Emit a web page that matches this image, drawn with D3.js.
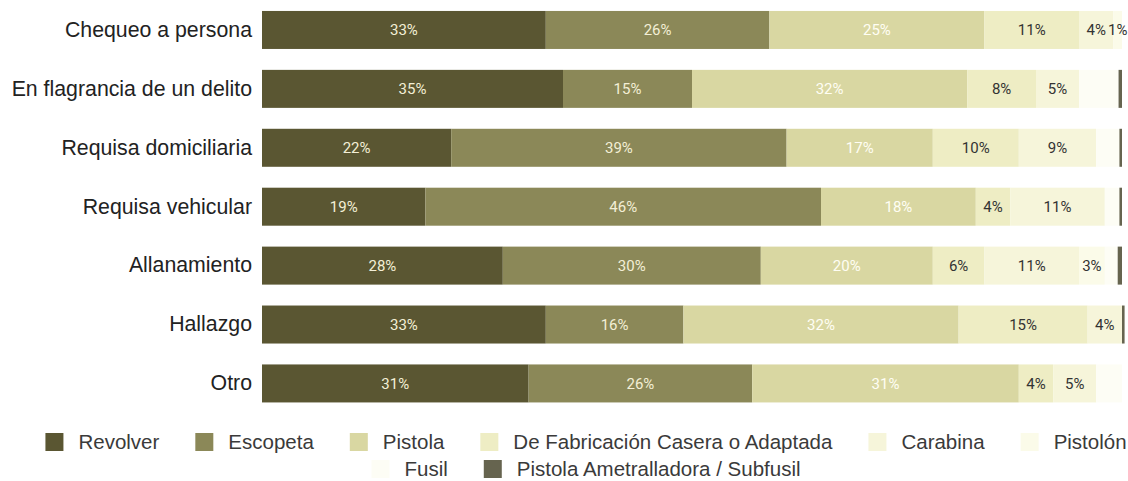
<!DOCTYPE html>
<html>
<head>
<meta charset="utf-8">
<script src="https://cdn.jsdelivr.net/npm/d3@7"></script>
<style>
  html, body { margin: 0; padding: 0; background: #fff; }
  svg { display: block; }
</style>
</head>
<body>
<svg id="chart" width="1128" height="481"></svg>
<script>
'use strict';

// row categories (top to bottom)
var categories = ["Chequeo a persona", "En flagrancia de un delito", "Requisa domiciliaria",
   "Requisa vehicular", "Allanamiento", "Hallazgo", "Otro"];

var seriesNames = ["Revolver", "Escopeta", "Pistola", "De Fabricación Casera o Adaptada",
   "Carabina", "Pistolón", "Fusil", "Pistola Ametralladora / Subfusil"];

// percentages per category
var revolver      = [33, 35, 22, 19, 28, 33, 31];
var escopeta      = [26, 15, 39, 46, 30, 16, 26];
var pistola       = [25, 32, 17, 18, 20, 32, 31];
var casera        = [11,  8, 10,  4,  6, 15,  4];
var carabina      = [ 4,  5,  9, 11, 11,  4,  5];
var pistolon      = [ 1,  0,  0,  0,  3,  0,  0];
var fusil         = [ 0, 4.6, 2.7, 1.7, 1.5, 0, 3];
var ametralladora = [ 0, 0.4, 0.3, 0.3, 0.5, 0.3, 0];

var seriesValues = [revolver, escopeta, pistola, casera, carabina, pistolon, fusil, ametralladora];

var colors = ["#5a5632", "#8b8858", "#d9d7a2", "#eeedc4", "#f6f5da", "#fbfbe9", "#fdfdf5", "#66644f"];
var labelColors = ["#f3efd6", "#f3efd6", "#fffef4", "#333", "#333", "#333", null, null];

window.onload = function() {
   var svg = d3.select("#chart");

   var x = d3.scaleLinear().domain([0, 100]).range([262, 1122]);

   var y = d3.scaleBand()
   .domain(categories)
   .range([0.5, 412.9])
   .paddingInner(0.355)
   .paddingOuter(0.1775);

   // one row object per category, keys by series name
   var rows = categories.map(function(c, i) {
      var r = { category: c };
      seriesNames.forEach(function(s, j) { r[s] = seriesValues[j][i]; });
      return r;
   });

   var stacked = d3.stack().keys(seriesNames)(rows);

   var layers = svg.append("g").selectAll("g")
   .data(stacked)
   .enter().append("g")
   .attr("fill", function(d, i) { return colors[i]; });

   layers.selectAll("rect")
   .data(function(d) { return d; })
   .enter().append("rect")
   .attr("x", function(d) { return x(d[0]); })
   .attr("y", function(d) { return y(d.data.category); })
   .attr("width", function(d) { return x(d[1]) - x(d[0]); })
   .attr("height", y.bandwidth());

   // percent labels inside segments
   stacked.forEach(function(layer, i) {
      if (!labelColors[i]) return;
      svg.append("g").selectAll("text")
      .data(layer.filter(function(d) { return d[1] - d[0] >= 1; }))
      .enter().append("text")
      .attr("x", function(d) { return (x(d[0]) + x(d[1])) / 2; })
      .attr("y", function(d) { return y(d.data.category) + y.bandwidth() / 2; })
      .attr("dy", "0.35em")
      .attr("text-anchor", "middle")
      .style("font-family", "Roboto, sans-serif")
      .style("font-size", "15px")
      .style("fill", labelColors[i])
      .text(function(d) { return Math.round(d[1] - d[0]) + "%"; });
   });

   // category axis, no line or ticks
   var yAxis = svg.append("g")
   .attr("transform", "translate(" + (x(0) - 2) + ",0)")
   .call(d3.axisLeft(y).tickSize(0).tickPadding(8));
   yAxis.select(".domain").remove();
   yAxis.selectAll("text")
   .style("font-family", "'Liberation Sans', Arial, sans-serif")
   .style("font-size", "21.3px")
   .style("fill", "#222");

   // legend, wrapped in centered rows
   var sw = 18, gapText = 15, gapItem = 36, maxW = 1110, cx = 586;
   var legendRowsY = [442, 469];
   var legend = svg.append("g");
   var items = seriesNames.map(function(name, i) {
      var g = legend.append("g");
      g.append("rect")
      .attr("width", sw).attr("height", sw)
      .attr("y", -sw / 2)
      .attr("fill", colors[i]);
      var t = g.append("text")
      .attr("x", sw + gapText)
      .attr("dy", "0.35em")
      .style("font-family", "'Liberation Sans', Arial, sans-serif")
      .style("font-size", "20.5px")
      .style("fill", "#3a3a3a")
      .text(name);
      return { g: g, w: sw + gapText + t.node().getComputedTextLength() };
   });

   var lines = [[]], lineW = 0;
   items.forEach(function(it) {
      var add = (lines[lines.length - 1].length ? gapItem : 0) + it.w;
      if (lineW + add > maxW) { lines.push([]); lineW = 0; add = it.w; }
      lines[lines.length - 1].push(it);
      lineW += add;
   });

   lines.forEach(function(line, li) {
      var total = d3.sum(line, function(it) { return it.w; }) + gapItem * (line.length - 1);
      var px = cx - total / 2;
      line.forEach(function(it) {
         it.g.attr("transform", "translate(" + px + "," + legendRowsY[li] + ")");
         px += it.w + gapItem;
      });
   });
};
</script>
</body>
</html>
